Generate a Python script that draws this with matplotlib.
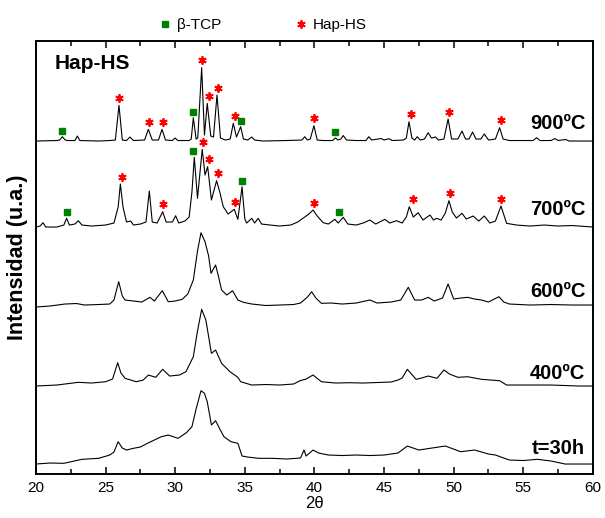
import numpy as np
import matplotlib
matplotlib.use('Agg')
import matplotlib.pyplot as plt
from matplotlib.lines import Line2D

plt.rcParams['font.family'] = ['Liberation Sans', 'DejaVu Sans']

# Difractogramas Hap-HS: 2theta y altura sobre la línea base de cada curva (u.a.)
tth_900 = [20.0, 21.5, 21.7, 21.89, 22.1, 22.3, 22.8, 22.97, 23.15, 24.5, 25.3, 25.7, 25.96, 26.2,
           26.5, 26.75, 27.0, 27.8, 28.07, 28.35, 28.8, 29.05, 29.3, 29.8, 29.98, 30.2, 31.0, 31.15,
           31.3, 31.5, 31.62, 31.9, 32.1, 32.3, 32.55, 32.75, 33.0, 33.25, 33.6, 33.95, 34.17, 34.4,
           34.7, 34.9, 35.2, 35.5, 35.7, 36.0, 36.3, 38.0, 39.1, 39.3, 39.5, 39.7, 39.96, 40.2, 40.6,
           41.3, 41.5, 41.7, 41.9, 42.07, 42.3, 43.0, 43.7, 43.9, 44.1, 44.8, 45.0, 45.35, 45.6, 46.4,
           46.6, 46.79, 47.0, 47.2, 47.38, 47.6, 47.9, 48.17, 48.4, 48.7, 48.9, 49.3, 49.6, 49.85,
           50.3, 50.6, 50.85, 51.1, 51.36, 51.6, 51.95, 52.2, 52.5, 53.0, 53.3, 53.55, 54.0, 55.7,
           55.96, 56.2, 57.0, 57.27, 57.5, 58.04, 58.3, 60.0]
int_900 = [0, 0.5, 1, 4.3, 1, 0.5, 0.5, 5, 0.5, 0, 0.5, 1, 35.7, 1,
           0.5, 4, 0.5, 1, 11.7, 1, 1, 11.7, 1, 0.5, 3, 0.5, 0.5, 2,
           23.3, 2, 3, 73.3, 6, 37.7, 5, 4, 46, 3, 1, 2, 17.7, 4,
           14.3, 2, 1, 4, 1, 0.5, 0, 0.5, 1, 4.3, 1, 2, 15.3, 1, 0.5,
           0.5, 3, 1, 2, 5.5, 1, 0.5, 0.5, 4.3, 1, 2.5, 1, 2.3, 0.5, 1,
           3, 19.3, 3, 1, 4.3, 1, 2, 8.3, 3, 4, 1, 2, 22, 2,
           2, 10, 2, 2, 9, 2, 2, 7, 1, 2, 13.3, 2, 0.5, 0.5,
           3.3, 0.5, 0.5, 2.5, 0.5, 1.5, 0, 0]

tth_700 = [20.0, 20.3, 20.5, 20.7, 21.5, 22.0, 22.2, 22.4, 22.8, 23.04, 23.3, 24.0, 25.0, 25.6,
           25.9, 26.06, 26.25, 26.5, 26.8, 27.0, 27.5, 27.9, 28.14, 28.35, 28.7, 29.1, 29.35, 29.8,
           30.03, 30.25, 30.7, 31.0, 31.2, 31.37, 31.6, 31.94, 32.14, 32.33, 32.6, 32.97, 33.2,
           33.45, 33.8, 34.24, 34.5, 34.8, 35.0, 35.13, 35.5, 35.7, 35.96, 36.2, 36.8, 37.5, 38.3,
           38.8, 39.2, 39.6, 39.9, 40.2, 40.63, 41.0, 41.47, 41.7, 42.07, 42.4, 43.0, 43.5, 43.98,
           44.4, 45.06, 45.4, 45.9, 46.3, 46.6, 46.81, 47.1, 47.45, 47.8, 48.3, 48.55, 48.78, 49.1,
           49.4, 49.66, 49.9, 50.2, 50.6, 50.9, 51.4, 51.8, 52.2, 52.6, 53.0, 53.4, 53.8, 54.5,
           55.5, 56.5, 57.5, 58.5, 60.0]
int_700 = [0, 1, 4.3, 0, 0, 2, 8.7, 2, 3, 6.3, 2, 1, 2, 4,
           20, 43, 20, 5, 6, 2, 3, 5, 36, 5, 4, 15.3, 5, 5,
           11.3, 4, 6, 10, 35, 69.7, 28.7, 77.7, 52, 60.3, 27, 46.3, 35,
           20.3, 13, 17.7, 7.7, 40.3, 8, 4, 8.7, 4, 8.7, 3, 2, 1, 2,
           5, 9, 13, 17, 11, 4.3, 3, 7.7, 4, 9.7, 3, 2, 4, 7,
           3, 7.7, 4, 6.3, 4, 10, 20.3, 10, 14.3, 7, 12, 7, 8.7, 7,
           14, 26.3, 15, 9, 13.7, 8, 11, 6, 11, 4, 6, 21, 3.7, 2,
           1, 2, 1, 1.5, 0]

tth_600 = [20.0, 21.0, 22.08, 22.9, 23.5, 24.5, 25.3, 25.6, 25.94, 26.2, 26.4, 27.0, 27.6, 28.19,
           28.5, 29.07, 29.5, 30.0, 30.5, 30.9, 31.3, 31.6, 31.85, 32.14, 32.4, 32.57, 32.9, 33.1,
           33.33, 33.7, 34.12, 34.5, 34.9, 35.5, 36.5, 37.5, 38.5, 39.0, 39.5, 39.8, 40.1, 40.5,
           41.2, 42.0, 43.0, 43.98, 44.5, 45.5, 46.2, 46.74, 47.2, 47.7, 48.17, 48.6, 49.2, 49.6,
           50.0, 50.5, 51.0, 51.5, 52.0, 52.5, 53.25, 53.6, 54.0, 55.5, 57.0, 58.5, 60.0]
int_600 = [-1, 0, 2, 2.5, 1, 1.5, 2, 6, 24.3, 10, 6, 5, 4, 8.7,
           5, 15.3, 4.3, 5, 6.7, 12, 26, 55, 73.3, 64.3, 50, 32.7, 41, 30,
           16, 11, 15.3, 6, 3.7, 2, 0.5, 1, 1.5, 3, 9, 14.3, 8, 2.7,
           3, 2, 3, 6, 3, 4, 6, 18.7, 6, 6, 8.7, 5, 8, 22,
           7, 8, 8.7, 7, 6, 4, 9.3, 4, 2, 1, 1.5, 1, 1]

tth_400 = [20.0, 21.5, 23.04, 24.0, 25.0, 25.5, 25.87, 26.1, 26.4, 27.2, 27.7, 28.07, 28.6, 29.1,
           29.6, 30.3, 30.77, 31.3, 31.6, 31.9, 32.2, 32.6, 32.9, 33.33, 33.93, 34.5, 34.7, 35.5,
           36.5, 37.5, 38.5, 38.96, 39.4, 39.9, 40.5, 41.5, 42.5, 43.5, 44.5, 45.5, 46.0, 46.3,
           46.67, 47.3, 47.7, 48.17, 48.8, 49.3, 49.7, 50.3, 51.0, 52.0, 53.3, 53.8, 55.0, 57.0,
           59.0, 60.0]
int_400 = [0, 1, 3.7, 3, 4.3, 7, 23.3, 13, 7.7, 4.3, 6, 11, 8.7, 16.7,
           10, 11, 14.3, 29.3, 55, 76.7, 66, 32.7, 36, 22.7, 14.3, 8.7, 4.3, 1,
           1.5, 1, 2, 5.3, 7, 11, 4.3, 3, 3.3, 3, 3.5, 4, 6, 8,
           16.7, 6.7, 8, 10, 7.7, 16, 12, 8.7, 9.3, 6.7, 5.3, 1, 1, 1,
           0, 0]

tth_30h = [20.0, 21.0, 22.0, 23.3, 24.5, 25.3, 25.6, 25.9, 26.2, 26.5, 27.0, 27.5, 28.0, 28.5,
           29.0, 29.5, 30.2, 30.8, 31.2, 31.5, 31.85, 32.1, 32.3, 32.6, 32.9, 33.2, 33.5, 34.0,
           34.5, 34.8, 35.2, 36.0, 37.0, 38.0, 39.0, 39.25, 39.4, 39.9, 40.3, 41.0, 42.0, 43.0,
           44.0, 45.0, 46.0, 46.67, 47.5, 48.3, 49.4, 50.5, 51.5, 52.5, 53.0, 54.0, 55.0, 56.0,
           57.0, 58.0, 60.0]
int_30h = [0, 1, 0.7, 4.7, 5.7, 9, 12, 22.3, 16, 14, 15.7, 17, 20.7, 24,
           27.3, 29, 25.7, 31.3, 37.3, 55, 73.3, 70.7, 62.3, 39, 43.3, 35, 27.3, 22.3,
           20.7, 8, 7, 5.7, 5.7, 5, 6, 14, 8, 14, 11, 9, 8.5, 9,
           8.5, 9, 11, 18, 14, 15.7, 18, 12.3, 14, 10, 9, 4, 3.5, 4.7,
           3, 0, 0]

etiquetas = ['900ºC', '700ºC', '600ºC', '400ºC', 't=30h']
desplazamiento = [333, 247, 168, 88, 10]
etiqueta_dy = [18, 18, 15, 13, 16]

# posiciones de los picos marcados (Hap-HS = *, beta-TCP = cuadrado)
hap_900 = [25.96, 28.1, 29.14, 31.9, 32.45, 33.1, 34.3, 39.96, 46.93, 49.65, 53.4]
tcp_900 = [21.9, 31.3, 34.75, 41.5]
hap_700 = [26.2, 29.1, 32.0, 32.45, 33.1, 34.27, 39.96, 47.05, 49.73, 53.4]
tcp_700 = [22.2, 31.3, 34.8, 41.78]

curvas = [(tth_900, int_900), (tth_700, int_700), (tth_600, int_600),
          (tth_400, int_400), (tth_30h, int_30h)]

fig = plt.figure(figsize=(6.05, 5.18), dpi=100)
ax = fig.add_axes([0.0595, 0.0849, 0.9205, 0.8359])

for (x, y), off, lab, dy in zip(curvas, desplazamiento, etiquetas, etiqueta_dy):
    ax.plot(x, np.array(y) + off, color='black', lw=0.8)
    ax.text(59.45, off + dy, lab, ha='right', va='center', fontsize=14.5, fontweight='bold')


def altura_marca(x, y, off, xm, gap=7.5, w=0.25):
    xs = np.linspace(xm - w, xm + w, 51)
    return np.interp(xs, x, y).max() + off + gap


estrella = dict(marker=(6, 2, 0), ms=6, mew=1.3, color='red', ls='none')
cuadro = dict(marker='s', ms=3.8, color='#008000', mec='#008000', ls='none')

marcas = [(0, hap_900, tcp_900), (1, hap_700, tcp_700)]
for i, hap, tcp in marcas:
    x, y = curvas[i]
    off = desplazamiento[i]
    for xm in hap:
        ax.plot(xm, altura_marca(x, y, off, xm), **estrella)
    for xm in tcp:
        ax.plot(xm, altura_marca(x, y, off, xm, gap=6), **cuadro)

ax.text(21.35, 411, 'Hap-HS', fontsize=15, fontweight='bold', va='center', ha='left')

ax.set_xlim(20, 60)
ax.set_ylim(0, 433)
ax.set_xticks(np.arange(20, 61, 5))
ax.set_xticks(np.arange(22.5, 60, 5), minor=True)
ax.set_yticks([])
ax.tick_params(axis='x', which='major', direction='in', length=5, width=1.1, top=True,
               labelsize=11, pad=5)
ax.tick_params(axis='x', which='minor', direction='in', length=3.5, width=1.1, top=True)
for s in ax.spines.values():
    s.set_linewidth(1.4)

ax.set_xlabel('2θ', fontsize=12, labelpad=1)
ax.set_ylabel('Intensidad (u.a.)', fontsize=15.5, fontweight='bold', labelpad=6)

handles = [Line2D([], [], **cuadro), Line2D([], [], **estrella)]
ax.legend(handles, ['β-TCP', 'Hap-HS'], loc='lower center', bbox_to_anchor=(0.405, 0.995),
          ncol=2, frameon=False, fontsize=11, handletextpad=0.2, columnspacing=4.6,
          borderpad=0.2, handlelength=1.2)

fig.savefig('out.png', dpi=100)
